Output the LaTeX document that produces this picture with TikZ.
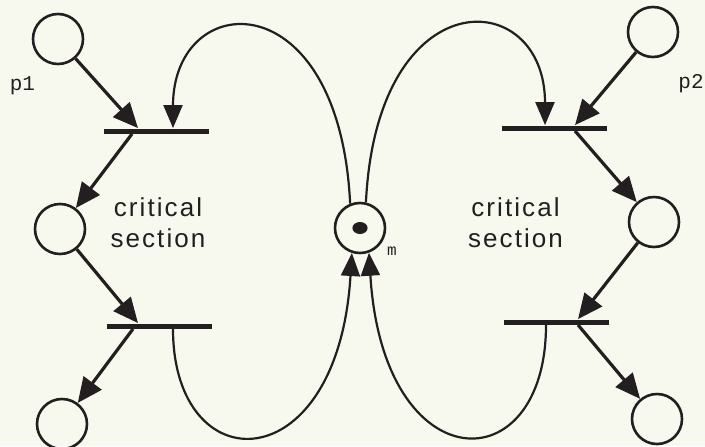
\documentclass[tikz,border=0pt]{standalone}
\usepackage{fontspec}
\newfontfamily\critfont[LetterSpace=8]{Liberation Sans}
\newfontfamily\namefont{Liberation Mono}
\usetikzlibrary{arrows.meta}
\definecolor{paper}{RGB}{248,249,238}
\definecolor{ink}{RGB}{35,31,32}

\begin{document}
\begin{tikzpicture}[x=0.5pt,y=0.5pt,color=ink,
  place/.style={draw,circle,line width=1.3pt,minimum size=25pt,inner sep=0pt},
  bar/.style={fill,rectangle,minimum width=52.5pt,minimum height=2.5pt,inner sep=0pt},
  flow/.style={-{Triangle[length=12.5pt,width=11pt]},line width=1.6pt},
  feedback/.style={-{Triangle[length=11.5pt,width=9.5pt]},line width=1.1pt},
  txt/.style={font=\critfont\fontsize{13}{15.5}\selectfont,align=center},
  placename/.style={anchor=base}]
  \fill[paper] (0,0) rectangle (705,446);
  \useasboundingbox (0,0) rectangle (705,446);
  \node[place] (p1) at (58,407) {};
  \node[place] (c1) at (60,217) {};
  \node[place] (c1b) at (62,22) {};
  \node[place] (p2) at (653,414) {};
  \node[place] (c2) at (654,224) {};
  \node[place] (c2b) at (657,27) {};
  \node[place] (m) at (360,218) {};
  \fill (m) ellipse (3.8pt and 3pt);
  \node[bar] (t1) at (156,315) {};
  \node[bar] (t2) at (159.5,120) {};
  \node[bar] (t3) at (554.5,318) {};
  \node[bar] (t4) at (556,124) {};
  \node[placename,font=\namefont\fontsize{10.5}{12}\selectfont] (p1name) at (22.5,356) {p1};
  \node[placename,font=\namefont\fontsize{10.5}{12}\selectfont] (p2name) at (691,358) {p2};
  \node[placename,font=\namefont\fontsize{8}{9}\selectfont] (mname) at (392,191) {m};
  \node[txt] (cs1) at (158,223) {critical\\section};
  \node[txt] (cs2) at (515.5,223) {critical\\section};
  \draw[flow] (p1) -- ([xshift=-9pt]t1.north);
  \draw[flow] ([xshift=-12pt]t1.south) -- (c1);
  \draw[flow] (c1) -- ([xshift=-10.75pt]t2.north);
  \draw[flow] ([xshift=-13.25pt]t2.south) -- (c1b);
  \draw[flow] (p2) -- ([xshift=10.25pt]t3.north);
  \draw[flow] ([xshift=10.25pt]t3.south) -- (c2);
  \draw[flow] (c2) -- ([xshift=11pt]t4.north);
  \draw[flow] ([xshift=11pt]t4.south) -- (c2b);
  \draw[feedback] (m.112) .. controls +(-11,225) and +(0,140) .. ([xshift=8.5pt]t1.north);
  \draw[feedback] (m.77) .. controls +(11,225) and +(0,140) .. ([xshift=-4.75pt]t3.north);
  \draw[feedback] ([xshift=6.75pt]t2.south) .. controls +(0,-155) and +(-14,-230) .. (m.252);
  \draw[feedback] ([xshift=-5pt]t4.south) .. controls +(0,-160) and +(14,-230) .. (m.290);
\end{tikzpicture}
\end{document}
